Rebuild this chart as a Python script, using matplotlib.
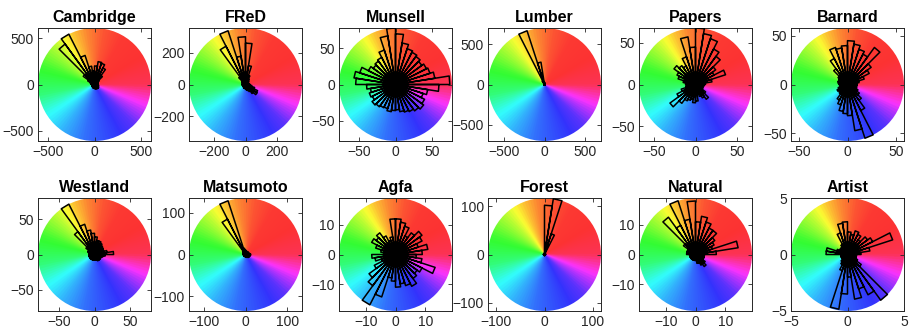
import numpy as np
import matplotlib
matplotlib.use("Agg")
import matplotlib.pyplot as plt
from matplotlib.patches import Circle
from matplotlib.colors import hsv_to_rgb

plt.rcParams['font.family'] = ['Liberation Sans', 'DejaVu Sans']

# ---------- data: counts per 9-degree hue bin (40 bins, CCW from +x) ----------

names = ["Cambridge", "FReD", "Munsell", "Lumber", "Papers", "Barnard",
         "Westland", "Matsumoto", "Agfa", "Forest", "Natural", "Artist"]

cambridge = [40, 35, 35, 45, 60, 120, 200, 240, 250, 200,
             150, 200, 330, 610, 540, 150, 80, 50, 40, 35,
             30, 30, 30, 30, 30, 35, 35, 40, 40, 40,
             45, 45, 50, 50, 55, 55, 50, 45, 45, 40]
fred = [25, 20, 20, 20, 25, 30, 40, 60, 120, 260,
        300, 180, 355, 270, 60, 30, 25, 20, 20, 20,
        20, 20, 20, 20, 20, 20, 20, 25, 25, 25,
        30, 35, 40, 50, 70, 90, 85, 60, 40, 30]
munsell = [75, 55, 50, 48, 45, 48, 50, 52, 58, 70,
           78, 68, 50, 42, 40, 38, 42, 52, 58, 55,
           40, 35, 38, 36, 40, 38, 36, 35, 38, 36,
           35, 38, 40, 42, 45, 48, 45, 40, 45, 60]
lumber = [8, 8, 8, 8, 8, 10, 10, 12, 15, 20,
          30, 280, 700, 50, 15, 10, 8, 8, 8, 8,
          5, 5, 5, 5, 5, 5, 5, 5, 5, 5,
          5, 5, 5, 5, 5, 5, 5, 5, 5, 8]
papers = [12, 20, 38, 25, 30, 42, 48, 58, 62, 68,
          45, 58, 35, 25, 28, 32, 25, 22, 15, 12,
          10, 12, 18, 25, 38, 28, 22, 20, 18, 22,
          20, 12, 15, 18, 22, 15, 10, 8, 10, 10]
barnard = [10, 12, 18, 25, 30, 47, 35, 38, 42, 45,
           40, 38, 40, 30, 20, 12, 10, 10, 10, 9,
           8, 8, 10, 12, 10, 12, 18, 22, 28, 30,
           32, 48, 58, 30, 20, 15, 12, 10, 9, 10]
westland = [27, 18, 14, 14, 15, 16, 18, 20, 20, 25,
            30, 35, 45, 80, 40, 15, 10, 10, 8, 8,
            8, 8, 8, 8, 8, 8, 8, 8, 8, 8,
            8, 8, 8, 10, 10, 10, 10, 10, 12, 15]
matsumoto = [12, 10, 8, 8, 8, 8, 8, 8, 8, 10,
             10, 15, 135, 95, 10, 8, 6, 6, 6, 5,
             5, 5, 5, 5, 5, 5, 5, 5, 5, 5,
             5, 6, 6, 8, 8, 10, 10, 10, 12, 12]
agfa = [9, 11, 8, 10, 11, 9, 7, 10, 11, 12,
        12, 6, 5, 7, 9, 8, 9, 7, 5, 4,
        8, 7, 5, 8, 11, 13, 19, 15, 8, 9,
        11, 10, 11, 12, 10, 9, 10, 14, 9, 7]
forest = [2, 2, 2, 2, 2, 3, 3, 45, 117, 102,
          3, 2, 2, 2, 2, 2, 2, 2, 2, 2,
          2, 2, 2, 2, 2, 2, 2, 2, 2, 2,
          2, 2, 2, 2, 2, 2, 2, 2, 2, 2]
natural = [7, 14.5, 6, 7, 8, 10, 10, 11.5, 13, 11,
           18, 12, 19, 11, 15.5, 5, 3, 3, 3, 3,
           2, 2, 2, 2, 2, 2, 2, 2, 2, 2,
           2, 3, 3, 4, 5, 4, 3, 3, 3, 3]
artist = [1.2, 2.0, 4.2, 2.5, 2.2, 1.6, 2.0, 2.2, 1.8, 2.0,
          2.9, 2.8, 2.0, 1.0, 0.8, 0.8, 0.8, 1.0, 1.9, 1.9,
          0.6, 0.6, 0.6, 0.6, 0.6, 0.8, 1.0, 1.5, 4.9, 3.5,
          2.0, 4.0, 3.2, 4.0, 5.0, 1.5, 1.0, 0.8, 0.8, 0.8]

all_counts = [cambridge, fred, munsell, lumber, papers, barnard,
              westland, matsumoto, agfa, forest, natural, artist]

tick_labels = [[-500, 0, 500], [-200, 0, 200], [-50, 0, 50],
               [-500, 0, 500], [-50, 0, 50], [-50, 0, 50],
               [-50, 0, 50], [-100, 0, 100], [-10, 0, 10],
               [-100, 0, 100], [-10, 0, 10], [-5, 0, 5]]

# hue wheel: screen angle (deg) -> HSV hue (deg, unwrapped)
wheel_angle = [0, 30, 60, 80, 98, 112, 122, 135, 160, 190,
               212, 235, 260, 295, 315, 330, 345, 360]
wheel_hue = [350, 360, 362, 370, 385, 402, 418, 440, 475, 500,
             538, 562, 582, 598, 612, 640, 675, 710]


def hue_wheel_image(n=300, sectors=120):
    g = np.linspace(-1, 1, n)
    xx, yy = np.meshgrid(g, g)
    ang = np.degrees(np.arctan2(yy, xx)) % 360
    ang = (np.floor(ang / (360 / sectors)) + 0.5) * (360 / sectors)
    h = (np.interp(ang, wheel_angle, wheel_hue) % 360) / 360.0
    s = np.full_like(h, 0.80)
    v = np.full_like(h, 0.99)
    return hsv_to_rgb(np.dstack([h, s, v]))


def draw_rose(ax, counts):
    counts = np.asarray(counts, dtype=float)
    nb = len(counts)
    edges = np.radians(np.arange(nb + 1) * 360.0 / nb)
    xs, ys = [], []
    for i, r in enumerate(counts):
        a1, a2 = edges[i], edges[i + 1]
        xs += [0, r * np.cos(a1), r * np.cos(a2), 0, np.nan]
        ys += [0, r * np.sin(a1), r * np.sin(a2), 0, np.nan]
    ax.plot(xs, ys, color='black', lw=1.1, zorder=3)


fig = plt.figure(figsize=(9.10, 3.36), dpi=100)
img = hue_wheel_image()

lefts = [38, 189, 339, 488, 639, 791]
tops = [28, 198]
size = 113

for k, (name, counts, tl) in enumerate(zip(names, all_counts, tick_labels)):
    row, col = divmod(k, 6)
    ax = fig.add_axes([lefts[col] / 910, 1 - (tops[row] + size) / 336,
                       size / 910, size / 336])
    R = max(counts)
    im = ax.imshow(img, extent=[-R, R, -R, R], origin='lower',
                   interpolation='bilinear', zorder=1)
    im.set_clip_path(Circle((0, 0), R, transform=ax.transData))
    draw_rose(ax, counts)
    ax.set_xlim(-R, R)
    ax.set_ylim(-R, R)
    ax.set_aspect('auto')
    ax.set_xticks(tl)
    ax.set_yticks(tl)
    ax.tick_params(direction='in', length=3, width=0.6, top=True, right=True,
                   labelsize=10, colors='#262626', pad=3)
    for sp in ax.spines.values():
        sp.set_color('#262626')
        sp.set_linewidth(0.7)
    ax.set_title(name, fontsize=11.5, fontweight='bold', pad=4)

fig.savefig("out.png", dpi=100)
